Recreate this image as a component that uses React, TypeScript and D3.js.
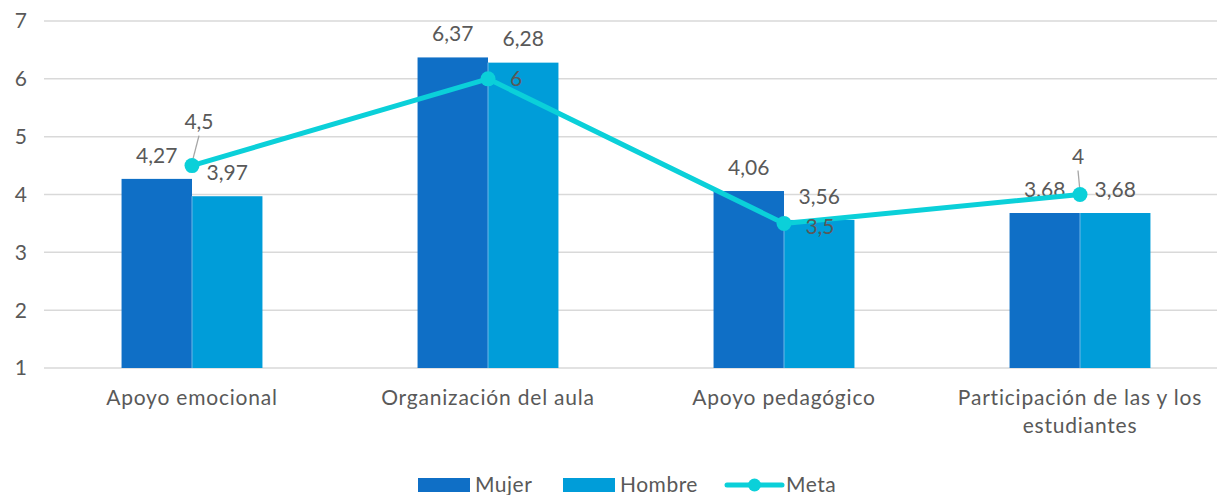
import React from "react";
import * as d3 from "d3";

const categories = ["Apoyo emocional", "Organización del aula", "Apoyo pedagógico", "Participación de las y los estudiantes"];
const mujer = [4.27, 6.37, 4.06, 3.68];
const hombre = [3.97, 6.28, 3.56, 3.68];
const meta = [4.5, 6, 3.5, 4];
const yTicks = [1, 2, 3, 4, 5, 6, 7];

const W = 1217, H = 495;
const C_M = "#0F6FC6", C_H = "#009DD9", C_META = "#0BD0D9";
const TXT = "#595959";
const FONT = "Lato, sans-serif";
const FS = 21;

const fmt = (v: number) => String(v).replace(".", ",");

// meta label placement: [dx, dy] relative to point, leader line flag
const metaOff: [number, number, boolean][] = [[7, -44, true], [28, 0, false], [36, 3, false], [-2, -38, true]];

export default function App() {
  const y = d3.scaleLinear().domain([1, 7]).range([368, 21]);
  const x0 = d3.scaleBand<string>().domain(categories).range([44, 1228]).paddingInner(0.524).paddingOuter(0.262);
  const x1 = d3.scaleBand<string>().domain(["m", "h"]).range([0, x0.bandwidth()]);
  const cx = (c: string) => (x0(c) as number) + x0.bandwidth() / 2;
  const line = d3.line<number>().x((_, i) => cx(categories[i])).y((d) => y(d));

  return (
    <svg width={W} height={H} style={{ position: "absolute", left: 0, top: 0 }} fontFamily={FONT}>
      <rect width={W} height={H} fill="#fff" />
      {yTicks.map((t) => (
        <g key={t}>
          <line x1={44} x2={1228} y1={y(t)} y2={y(t)} stroke="#D9D9D9" strokeWidth={1.5} />
          <text x={27} y={y(t)} dy="0.35em" textAnchor="end" fontSize={FS} fill={TXT}>{t}</text>
        </g>
      ))}
      {categories.map((c, i) => {
        const bx = x0(c) as number;
        const xm = bx + (x1("m") as number), xh = bx + (x1("h") as number), bw = x1.bandwidth();
        return (
          <g key={c}>
            <rect x={xm} y={y(mujer[i])} width={bw} height={y(1) - y(mujer[i])} fill={C_M} />
            <rect x={xh} y={y(hombre[i])} width={bw} height={y(1) - y(hombre[i])} fill={C_H} />
            <line x1={xh} x2={xh} y1={y(Math.min(mujer[i], hombre[i]))} y2={y(1)} stroke="#6FB7E8" strokeWidth={1} />
            <text x={xm + bw / 2} y={y(mujer[i]) - 23.5} dy="0.35em" textAnchor="middle" fontSize={FS} fill={TXT}>{fmt(mujer[i])}</text>
            <text x={xh + bw / 2} y={y(hombre[i]) - 23.5} dy="0.35em" textAnchor="middle" fontSize={FS} fill={TXT}>{fmt(hombre[i])}</text>
          </g>
        );
      })}
      <path d={line(meta) as string} fill="none" stroke={C_META} strokeWidth={5} strokeLinejoin="round" />
      {meta.map((v, i) => {
        const px = cx(categories[i]), py = y(v);
        const [dx, dy, lead] = metaOff[i];
        return (
          <g key={i}>
            {lead && <line x1={px + dx} y1={py + dy + 14} x2={px} y2={py - 3} stroke="#A6A6A6" strokeWidth={1.3} />}
            <circle cx={px} cy={py} r={7.5} fill={C_META} />
            <text x={px + dx} y={py + dy} dy="0.35em" textAnchor="middle" fontSize={FS} fill={TXT}>{fmt(v)}</text>
          </g>
        );
      })}
      {categories.map((c) => {
        const words = c === categories[3] ? ["Participación de las y los", "estudiantes"] : [c];
        return (
          <text key={c} x={cx(c)} y={398} textAnchor="middle" fontSize={FS} fill={TXT} letterSpacing={0.8}>
            {words.map((w, j) => (
              <tspan key={j} x={cx(c)} dy={j === 0 ? "0.35em" : 28}>{w}</tspan>
            ))}
          </text>
        );
      })}
      <g letterSpacing={0.5}>
        <rect x={418} y={478} width={52} height={14} fill={C_M} />
        <text x={475} y={485} dy="0.35em" fontSize={FS} fill={TXT}>Mujer</text>
        <rect x={563} y={478} width={52} height={14} fill={C_H} />
        <text x={620} y={485} dy="0.35em" fontSize={FS} fill={TXT}>Hombre</text>
        <line x1={727} x2={782} y1={485} y2={485} stroke={C_META} strokeWidth={5} strokeLinecap="round" />
        <circle cx={754.5} cy={485} r={6.5} fill={C_META} />
        <text x={786} y={485} dy="0.35em" fontSize={FS} fill={TXT}>Meta</text>
      </g>
    </svg>
  );
}
